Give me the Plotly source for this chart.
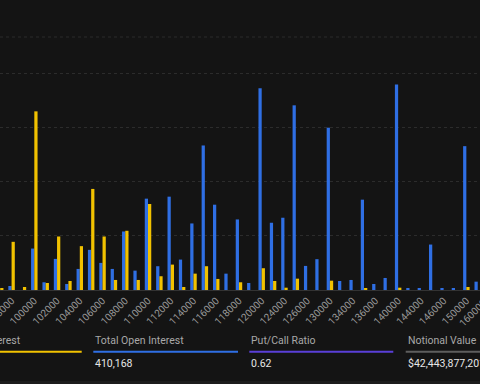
import plotly.graph_objects as go

strikes = ["97000", "98000", "99000", "100000", "101000", "102000", "103000", "104000",
           "105000", "106000", "107000", "108000", "109000", "110000", "111000", "112000",
           "113000", "114000", "115000", "116000", "117000", "118000", "119000", "120000",
           "122000", "124000", "125000", "126000", "128000", "130000", "132000", "134000",
           "135000", "136000", "138000", "140000", "142000", "144000", "145000", "146000",
           "148000", "150000", "155000", "160000"]

calls_oi = [0, 370, 0, 3824, 713, 2870, 556, 1944, 3704, 2500, 1944, 5398, 1787, 8426,
            2194, 8611, 2806, 6139, 13333, 7870, 1509, 6509, 648, 18611, 6204, 6667, 17037,
            2222, 2843, 14972, 833, 926, 8333, 556, 1111, 18954, 157, 157, 4194, 157, 157,
            13269, 769, 0]

puts_oi = [120, 4444, 278, 16481, 648, 4935, 833, 4046, 9324, 4935, 926, 5463, 926, 7935,
           1269, 2343, 278, 1509, 2194, 1019, 0, 713, 0, 2009, 833, 213, 1046, 0, 0, 861,
           0, 0, 185, 0, 0, 213, 0, 0, 0, 0, 0, 278, 0, 0]

tick_labels = strikes[1::2]

stat_labels = ["Put Open Interest", "Total Open Interest", "Put/Call Ratio", "Notional Value"]
stat_values = ["", "410,168", "0.62", "$42,443,877,201"]
stat_colors = ["#f2c200", "#2f6fe4", "#5a3fd8", "#5e5e5e"]

BLUE = "#2f6fe4"
YELLOW = "#f2c200"
BG = "#141414"

W, H = 480, 384
TOP, BOT = 37, 290
PH = BOT - TOP


def px_x(p):
    return p / W


def px_y(p):
    return (BOT - p) / PH


fig = go.Figure()
fig.add_trace(go.Bar(x=strikes, y=calls_oi, name="Calls", marker=dict(color=BLUE, line=dict(width=0))))
fig.add_trace(go.Bar(x=strikes, y=puts_oi, name="Puts", marker=dict(color=YELLOW, line=dict(width=0))))

shapes = []
annotations = []

shapes.append(dict(type="line", xref="paper", yref="paper", x0=0, x1=1, y0=1, y1=1,
                   line=dict(color="#2a2a2a", width=1, dash="dot")))
shapes.append(dict(type="rect", xref="paper", yref="paper", x0=0, x1=1,
                   y0=px_y(384), y1=px_y(381), line=dict(width=0), fillcolor="#1d1d1d"))

starts = [-63, 93.3, 249.3, 405.7]
ends = [81.7, 238, 393.3, 480]
for i, (lab, val, col) in enumerate(zip(stat_labels, stat_values, stat_colors)):
    x0 = starts[i]
    x1 = ends[i]
    shapes.append(dict(type="line", xref="paper", yref="paper", x0=px_x(x0), x1=px_x(x1),
                       y0=px_y(351.7), y1=px_y(351.7), line=dict(color=col, width=2)))
    annotations.append(dict(xref="paper", yref="paper", x=px_x(x0), y=px_y(340),
                            text=lab, showarrow=False, xanchor="left", yanchor="middle",
                            font=dict(family="Roboto", size=10.5, color="#a8a8a8")))
    if val:
        annotations.append(dict(xref="paper", yref="paper", x=px_x(x0), y=px_y(363.5),
                                text=val, showarrow=False, xanchor="left", yanchor="middle",
                                font=dict(family="Roboto", size=10.5, color="#e6e6e6")))

# last tick label, beyond the plot edge
annotations.append(dict(xref="paper", yref="paper", x=px_x(0.2 + 11.37 * 43 + 3), y=px_y(294),
                        text=strikes[-1], showarrow=False, textangle=-45,
                        xanchor="right", yanchor="top",
                        font=dict(family="Roboto", size=10, color="#9a9a9a")))

fig.update_layout(
    width=W, height=H,
    margin=dict(l=0, r=0, t=TOP, b=H - BOT, autoexpand=False),
    paper_bgcolor=BG, plot_bgcolor=BG,
    barmode="group", bargap=0.43, bargroupgap=0,
    showlegend=False,
    shapes=shapes, annotations=annotations,
    xaxis=dict(type="category", range=[-0.018, 42.2], tickmode="array",
               tickvals=tick_labels, ticktext=tick_labels, tickangle=-45,
               tickfont=dict(family="Roboto", size=10, color="#9a9a9a"),
               showgrid=False, showline=True, linecolor="#333333", linewidth=1,
               ticks="", zeroline=False, automargin=False),
    yaxis=dict(range=[0, PH / 54.2 * 5000], dtick=5000, showgrid=True,
               gridcolor="#2c2c2c", griddash="dot", gridwidth=1,
               showticklabels=False, zeroline=False, showline=False, automargin=False),
)

fig.write_html(
    "out.html",
    config={"displayModeBar": False},
    post_script="document.body.style.margin='0';document.body.style.padding='0';"
                "document.body.style.overflow='hidden';document.body.style.background='#141414';",
)
